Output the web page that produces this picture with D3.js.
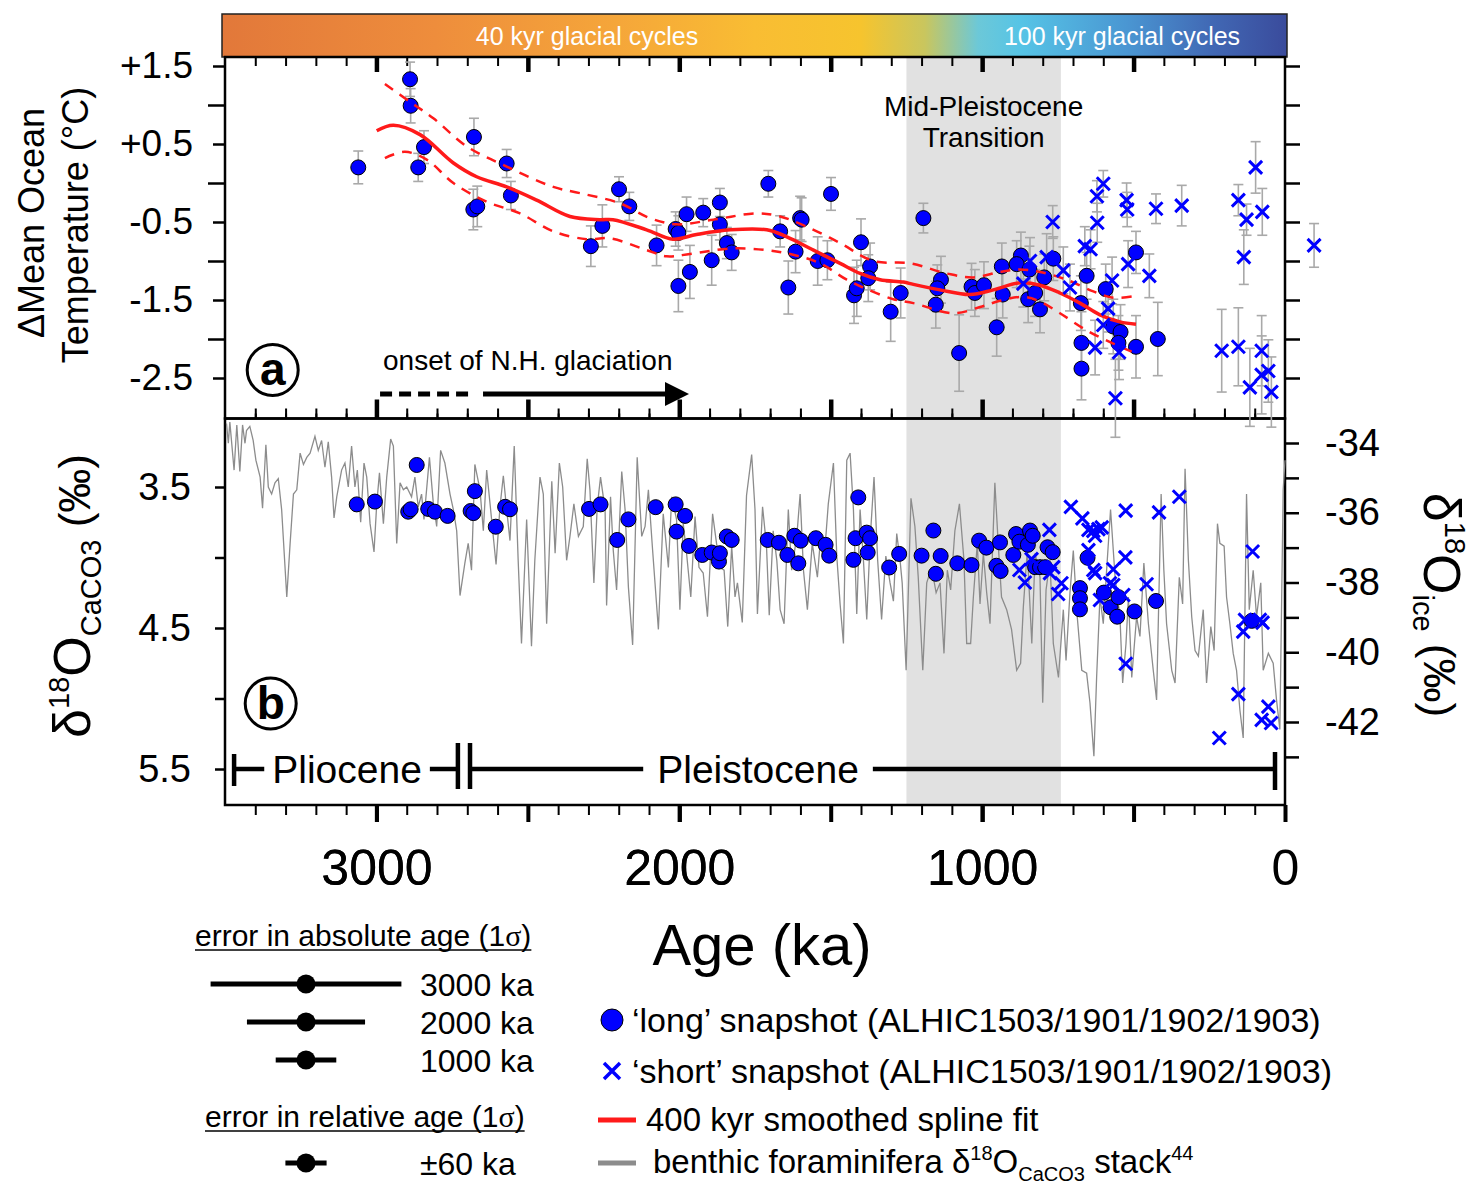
<!DOCTYPE html>
<html>
<head>
<meta charset="utf-8">
<script src="https://cdn.jsdelivr.net/npm/d3@7"></script>
<style>
  body { margin: 0; background: #fff; }
  svg { font-family: "Liberation Sans", Arial, Helvetica, sans-serif; }
</style>
</head>
<body>
<svg id="chart" width="1473" height="1186"></svg>
<script>
// ---- data ----
// [age ka, dT degC, 1 sigma]
const longTemp = [
  [3060,0.20,0.21],[2889,1.33,0.22],[2887,0.99,0.22],[2862,0.20,0.18],[2843,0.46,0.21],
  [2678,0.59,0.24],[2680,-0.34,0.26],[2667,-0.30,0.26],[2570,0.25,0.18],[2556,-0.16,0.18],
  [2292,-0.81,0.26],[2254,-0.55,0.27],[2199,-0.08,0.16],[2165,-0.30,0.18],[2075,-0.80,0.26],
  [2012,-0.59,0.22],[2003,-0.64,0.22],[2003,-1.32,0.33],[1976,-0.40,0.22],[1965,-1.14,0.34],
  [1921,-0.38,0.18],[1893,-0.99,0.32],[1866,-0.25,0.18],[1866,-0.53,0.20],[1843,-0.77,0.20],
  [1827,-0.89,0.23],[1706,-0.01,0.17],[1667,-0.62,0.20],[1640,-1.34,0.34],[1616,-0.88,0.27],
  [1601,-0.45,0.28],[1596,-0.47,0.28],[1543,-1.00,0.31],[1511,-0.99,0.25],[1499,-0.14,0.21],
  [1423,-1.44,0.36],[1414,-1.35,0.36],[1400,-0.76,0.30],[1370,-1.07,0.30],[1376,-1.22,0.30],
  [1302,-1.65,0.38],[1269,-1.41,0.32],[1194,-0.45,0.19],[1136,-1.24,0.30],[1148,-1.35,0.30],
  [1153,-1.56,0.30],[1076,-2.18,0.49],[1035,-1.33,0.30],[1024,-1.41,0.30],[994,-1.31,0.30],
  [935,-1.07,0.30],[932,-1.43,0.30],[952,-1.85,0.37],[872,-0.93,0.30],[886,-1.04,0.30],
  [844,-1.11,0.30],[848,-1.49,0.30],[825,-1.41,0.30],[809,-1.62,0.30],[795,-1.21,0.30],
  [765,-0.97,0.28],[674,-1.54,0.35],[655,-1.19,0.30],[672,-2.05,0.40],[672,-2.38,0.40],
  [592,-1.36,0.32],[492,-0.89,0.27],[567,-1.84,0.35],[543,-1.91,0.35],[550,-2.05,0.35],
  [492,-2.10,0.40],[420,-2.00,0.47]
];
const shortTemp = [
  [767,-0.50,0.21],[621,-0.17,0.20],[600,-0.01,0.17],[620,-0.51,0.25],[661,-0.81,0.25],
  [642,-0.85,0.25],[523,-0.22,0.22],[521,-0.34,0.22],[426,-0.33,0.19],[341,-0.29,0.26],
  [518,-1.04,0.30],[448,-1.19,0.28],[732,-1.12,0.30],[710,-1.34,0.30],[571,-1.25,0.30],
  [584,-1.61,0.30],[600,-1.82,0.30],[627,-2.11,0.35],[548,-2.17,0.35],[560,-2.76,0.50],
  [864,-1.29,0.30],[842,-1.00,0.30],[787,-0.95,0.30],[154,-0.22,0.20],[127,-0.47,0.20],
  [97,0.20,0.33],[75,-0.37,0.30],[136,-0.95,0.35],[-96,-0.80,0.28],[209,-2.15,0.53],
  [154,-2.10,0.50],[77,-2.15,0.45],[77,-2.46,0.50],[55,-2.41,0.40],[116,-2.62,0.50],
  [45,-2.68,0.45]
];
// 400 kyr smoothed spline fit and envelope [age, dT]
const splineMid = [
  [2999,0.67],[2944,0.74],[2856,0.62],[2747,0.26],[2669,0.08],[2570,-0.05],[2471,-0.22],
  [2361,-0.43],[2262,-0.47],[2219,-0.47],[2108,-0.60],[2021,-0.72],[1943,-0.66],[1832,-0.60],
  [1711,-0.60],[1645,-0.69],[1557,-0.86],[1469,-1.03],[1403,-1.16],[1337,-1.24],[1260,-1.27],
  [1227,-1.30],[1139,-1.37],[1040,-1.43],[963,-1.37],[875,-1.28],[809,-1.31],[743,-1.41],
  [677,-1.54],[611,-1.69],[545,-1.78],[492,-1.81]
];
const splineUpper = [
  [2972,1.27],[2889,1.04],[2812,0.83],[2702,0.47],[2570,0.21],[2416,-0.05],[2328,-0.13],
  [2196,-0.26],[2097,-0.45],[2009,-0.53],[1888,-0.47],[1744,-0.39],[1667,-0.43],[1579,-0.56],
  [1469,-0.77],[1359,-1.00],[1238,-1.03],[1117,-1.16],[1029,-1.21],[941,-1.14],[875,-1.11],
  [809,-1.14],[721,-1.24],[633,-1.39],[567,-1.47],[495,-1.45]
];
const splineLower = [
  [2972,0.32],[2906,0.40],[2834,0.30],[2746,0.00],[2636,-0.24],[2526,-0.39],[2416,-0.62],
  [2306,-0.72],[2229,-0.71],[2108,-0.86],[2042,-0.94],[1965,-0.91],[1833,-0.84],[1711,-0.86],
  [1624,-0.92],[1535,-1.03],[1447,-1.24],[1381,-1.36],[1293,-1.49],[1227,-1.54],[1095,-1.67],
  [1007,-1.59],[941,-1.51],[864,-1.46],[809,-1.52],[743,-1.67],[655,-1.89],[567,-2.06],[495,-2.18]
];
// [age ka, d18O ice permil]
const longIce = [
  [3065,-35.76],[3005,-35.68],[2895,-35.97],[2887,-35.90],[2867,-34.63],[2829,-35.89],[2807,-35.97],
  [2765,-36.09],[2689,-35.95],[2680,-36.01],[2675,-35.38],[2606,-36.40],[2575,-35.83],[2559,-35.90],
  [2298,-35.89],[2260,-35.76],[2205,-36.78],[2168,-36.19],[2078,-35.84],[2012,-35.76],[2009,-36.54],
  [1981,-36.09],[1968,-36.95],[1924,-37.21],[1893,-37.14],[1869,-37.40],[1866,-37.16],[1843,-36.68],
  [1827,-36.78],[1708,-36.78],[1671,-36.86],[1643,-37.21],[1620,-36.66],[1607,-37.45],[1599,-36.80],
  [1549,-36.73],[1517,-36.92],[1505,-37.23],[1425,-37.35],[1418,-36.73],[1409,-35.56],[1381,-36.57],
  [1378,-37.14],[1370,-36.73],[1307,-37.57],[1274,-37.18],[1200,-37.23],[1161,-36.51],[1153,-37.75],
  [1137,-37.24],[1082,-37.45],[1035,-37.50],[1010,-36.80],[986,-37.00],[953,-37.52],[939,-37.67],
  [941,-36.85],[897,-37.21],[888,-36.61],[877,-36.83],[849,-36.92],[842,-36.51],[833,-36.66],
  [825,-37.56],[809,-37.56],[792,-37.56],[784,-36.99],[767,-37.13],[677,-38.16],[677,-38.45],
  [677,-38.77],[652,-37.29],[598,-38.29],[576,-38.71],[554,-38.98],[550,-38.42],[497,-38.83],
  [426,-38.53],[110,-39.10]
];
const shortIce = [
  [778,-36.49],[877,-37.64],[859,-38.00],[837,-37.33],[765,-37.56],[776,-37.73],[738,-38.02],
  [749,-38.33],[707,-35.83],[669,-36.16],[649,-36.49],[633,-36.52],[616,-36.47],[605,-36.42],
  [627,-36.66],[526,-35.94],[416,-35.99],[349,-35.54],[527,-37.28],[633,-37.64],[627,-37.73],
  [567,-37.62],[578,-38.02],[567,-38.07],[611,-38.50],[534,-38.36],[457,-38.05],[649,-37.07],
  [526,-40.33],[107,-37.11],[138,-39.41],[132,-39.07],[74,-39.15],[83,-39.07],[154,-41.20],
  [217,-42.46],[55,-41.56],[77,-41.94],[46,-42.03]
];
// benthic foraminifera d18O stack [age ka, permil]
const benthic = [
  [3495,3.05],[3489,3.19],[3484,3.04],[3470,3.38],[3461,3.06],[3451,3.39],[3442,3.06],[3434,3.19],
  [3429,3.10],[3418,3.07],[3407,3.17],[3398,3.31],[3384,3.43],[3376,3.65],[3365,3.20],[3357,3.50],
  [3346,3.55],[3335,3.47],[3324,3.44],[3313,3.66],[3296,4.28],[3285,3.90],[3274,3.55],[3263,3.52],
  [3252,3.26],[3241,3.34],[3230,3.29],[3219,3.26],[3203,3.14],[3192,3.24],[3181,3.17],[3170,3.36],
  [3159,3.18],[3148,3.43],[3140,3.72],[3131,3.57],[3115,3.38],[3104,3.33],[3093,3.50],[3082,3.21],
  [3071,3.50],[3063,3.38],[3052,3.75],[3041,3.33],[3032,3.43],[3021,3.76],[3008,3.96],[2999,3.62],
  [2990,3.40],[2977,3.76],[2966,3.43],[2953,3.16],[2944,3.21],[2933,3.90],[2922,3.47],[2911,3.52],
  [2900,3.50],[2884,3.57],[2873,3.43],[2862,3.64],[2851,3.55],[2843,3.73],[2825,3.29],[2812,3.62],
  [2801,3.78],[2788,3.24],[2774,3.33],[2757,3.55],[2746,3.66],[2735,3.81],[2724,4.27],[2708,4.04],
  [2697,3.90],[2686,4.09],[2675,3.34],[2658,3.52],[2647,3.81],[2636,3.38],[2623,3.66],[2605,4.05],
  [2592,3.64],[2581,3.42],[2570,3.66],[2559,3.88],[2545,3.21],[2532,4.02],[2521,4.61],[2504,3.73],
  [2488,4.63],[2477,4.02],[2460,3.43],[2449,3.55],[2438,4.47],[2421,3.46],[2410,3.97],[2396,3.33],
  [2385,3.50],[2372,4.02],[2361,3.85],[2348,3.62],[2333,3.85],[2317,3.78],[2304,3.30],[2295,3.52],
  [2282,4.18],[2271,3.64],[2260,3.43],[2245,3.66],[2240,4.34],[2227,3.57],[2218,3.95],[2207,4.23],
  [2190,3.39],[2179,3.66],[2168,4.21],[2154,4.62],[2139,3.29],[2124,3.85],[2113,3.78],[2102,3.52],
  [2088,3.95],[2069,4.51],[2053,3.69],[2036,4.07],[2025,3.57],[2009,3.73],[1998,4.37],[1987,3.76],
  [1976,3.97],[1962,4.28],[1948,3.71],[1935,4.07],[1921,4.11],[1907,4.42],[1890,3.69],[1877,3.90],
  [1866,4.07],[1852,4.09],[1840,4.49],[1827,3.92],[1816,4.28],[1808,4.18],[1792,4.46],[1778,3.56],
  [1761,3.27],[1750,3.66],[1742,4.40],[1725,3.64],[1712,3.92],[1703,4.41],[1690,3.81],[1678,4.02],
  [1667,4.37],[1654,4.47],[1640,3.66],[1629,4.09],[1612,3.85],[1601,3.55],[1590,4.09],[1577,4.37],
  [1561,3.90],[1544,4.14],[1535,3.90],[1522,4.02],[1508,3.62],[1491,3.33],[1480,3.99],[1469,4.33],
  [1458,4.61],[1447,3.31],[1436,3.26],[1425,3.66],[1414,4.40],[1403,3.66],[1392,4.02],[1381,4.44],
  [1370,3.88],[1357,3.43],[1345,4.02],[1332,4.44],[1318,3.99],[1304,4.18],[1293,4.31],[1282,3.83],
  [1271,4.02],[1264,4.18],[1251,4.80],[1235,3.58],[1222,3.78],[1211,4.14],[1196,4.80],[1183,4.18],
  [1167,4.07],[1152,4.25],[1139,4.18],[1126,4.68],[1115,4.09],[1104,4.23],[1090,3.81],[1075,3.62],
  [1060,4.02],[1051,4.61],[1038,4.61],[1029,4.28],[1016,3.90],[1007,4.33],[996,3.97],[985,4.25],
  [974,4.47],[958,3.47],[947,3.90],[936,4.28],[919,4.37],[903,4.51],[886,4.80],[873,4.75],
  [864,4.35],[851,3.95],[836,4.61],[825,3.97],[809,4.14],[800,5.03],[789,4.23],[776,4.02],
  [765,4.61],[748,4.85],[732,4.37],[723,4.73],[710,4.25],[699,3.95],[686,4.42],[671,4.80],
  [655,4.82],[644,5.03],[631,5.41],[622,4.85],[611,4.28],[600,4.47],[589,4.09],[576,3.66],
  [561,4.14],[545,4.42],[536,4.89],[525,4.61],[517,4.28],[506,4.85],[490,4.42],[479,4.56],
  [466,4.04],[451,4.47],[435,4.80],[424,5.01],[409,3.55],[400,4.09],[391,4.47],[374,4.80],
  [363,4.89],[349,4.14],[338,4.33],[330,3.37],[319,4.02],[308,4.42],[297,4.66],[286,4.70],
  [270,4.37],[259,4.89],[245,4.49],[234,4.66],[223,3.76],[215,3.90],[201,3.92],[193,4.28],
  [182,4.47],[171,4.68],[160,4.80],[149,5.08],[138,5.28],[127,3.55],[118,4.37],[105,4.09],
  [94,4.42],[80,4.18],[72,4.80],[55,4.68],[39,4.75],[28,5.01],[17,5.22],[6,3.52],[0,3.31]
];
const tempTicks = [1.5, 0.5, -0.5, -1.5, -2.5];
const tempMinor = [1, 0, -1, -2];
const benthicTicks = [3.5, 4, 4.5, 5, 5.5];
const iceTicks = [-34, -35, -36, -37, -38, -39, -40, -41, -42, -43];
const ageLabels = [3000, 2000, 1000, 0];
const mpt = [1250, 740];
const nhgOnset = { dashFrom: 2988, dashTo: 2681, solidFrom: 2648, tip: 1968 };
const epochMarks = { start: 3470, boundary: [2731, 2691], end: 33, pliLabel: 3097, pleLabel: 1740 };
const absAgeErr = [['3000 ka', 315], ['2000 ka', 195], ['1000 ka', 100]];
const relAgeErr = [['±60 ka', 68]];
const cycleBands = ['40 kyr glacial cycles', '100 kyr glacial cycles'];

// ---- layout ----
const FONT = '"Liberation Sans", Arial, Helvetica, sans-serif';
const left = 225, right = 1285, topY = 57, midY = 418.5, botY = 805;
const svg = d3.select('#chart');

const x  = d3.scaleLinear().domain([3500, 0]).range([left, right]);
const yT = d3.scaleLinear().domain([1.5, -2.5]).range([66, 378]);
const yB = d3.scaleLinear().domain([3.5, 5.5]).range([487, 769]);
const yI = d3.scaleLinear().domain([-34, -42]).range([443, 722]);

const BLUE = '#0000ff', RED = '#ff1a1a', GREY_ERR = '#a9a9a9', GREY_LINE = '#8c8c8c';

// colour bar
const defs = svg.append('defs');
const grad = defs.append('linearGradient').attr('id', 'cyc').attr('x1', 0).attr('x2', 1).attr('y1', 0).attr('y2', 0);
[[0, '#e2783a'], [0.2, '#ee8d3c'], [0.37, '#f5a63a'], [0.5, '#f9bd33'], [0.6, '#f6c42e'],
 [0.66, '#c9c65e'], [0.71, '#6cc8d8'], [0.75, '#56c4e6'], [0.85, '#4a96d2'], [0.93, '#4168b4'], [1, '#3a4b9c']]
  .forEach(([o, c]) => grad.append('stop').attr('offset', o).attr('stop-color', c));
svg.append('rect').attr('x', 222).attr('y', 14).attr('width', 1065).attr('height', 43)
  .attr('fill', 'url(#cyc)').attr('stroke', '#222').attr('stroke-width', 1.5);
svg.selectAll('text.cyc').data(cycleBands).join('text').attr('class', 'cyc')
  .attr('x', (d, i) => i ? 1122 : 587).attr('y', 45)
  .attr('text-anchor', 'middle').attr('fill', '#fff').attr('font-size', 25).text(d => d);

// MPT band
svg.append('rect').attr('x', x(mpt[0])).attr('y', topY).attr('width', x(mpt[1]) - x(mpt[0]))
  .attr('height', botY - topY).attr('fill', '#e1e1e1');

svg.append('text').attr('x', x(995)).attr('y', 116).attr('text-anchor', 'middle')
  .attr('font-size', 28).text('Mid-Pleistocene');
svg.append('text').attr('x', x(995)).attr('y', 147).attr('text-anchor', 'middle')
  .attr('font-size', 28).text('Transition');

// frames
svg.append('rect').attr('x', left).attr('y', topY).attr('width', right - left).attr('height', midY - topY)
  .attr('fill', 'none').attr('stroke', '#000').attr('stroke-width', 2.5);
svg.append('rect').attr('x', left).attr('y', midY).attr('width', right - left).attr('height', botY - midY)
  .attr('fill', 'none').attr('stroke', '#000').attr('stroke-width', 2.5);

// x ticks every 100 ka, thicker every 500 ka
const minorAges = d3.range(100, 3500, 100).filter(d => d % 500);
const majorAges = d3.range(500, 3500, 500);
function ageTicks(gen, y, vals, size, sw) {
  svg.append('g').attr('transform', `translate(0,${y})`)
    .call(gen(x).tickValues(vals).tickSize(size).tickFormat(''))
    .call(g => g.select('.domain').remove())
    .call(g => g.selectAll('line').attr('stroke-width', sw));
}
ageTicks(d3.axisTop, topY, minorAges, -9, 2);
ageTicks(d3.axisTop, topY, majorAges, -15, 4.5);
ageTicks(d3.axisTop, midY, minorAges, 5, 2);
ageTicks(d3.axisBottom, midY, minorAges, -10, 2);
ageTicks(d3.axisBottom, midY, majorAges, -19, 4.5);
ageTicks(d3.axisBottom, botY, minorAges, 10, 2);

svg.append('g').attr('transform', `translate(0,${botY})`)
  .call(d3.axisBottom(x).tickValues(ageLabels.concat(majorAges)).tickSize(17).tickPadding(27)
    .tickFormat(d => ageLabels.includes(d) ? d : ''))
  .call(g => g.select('.domain').remove())
  .call(g => g.selectAll('line').attr('stroke-width', 4))
  .attr('font-family', FONT).attr('font-size', 50);

svg.append('text').attr('x', 762).attr('y', 965).attr('text-anchor', 'middle')
  .attr('font-size', 58).text('Age (ka)');

// y axes, panel a
svg.append('g').attr('transform', `translate(${left},0)`)
  .call(d3.axisLeft(yT).tickValues(tempTicks).tickSize(12).tickPadding(20)
    .tickFormat(d => (d > 0 ? '+' : '') + d.toFixed(1)))
  .call(g => g.select('.domain').remove())
  .call(g => g.selectAll('line').attr('stroke-width', 2.5))
  .attr('font-family', FONT).attr('font-size', 37);
svg.append('g').attr('transform', `translate(${left},0)`)
  .call(d3.axisLeft(yT).tickValues(tempMinor).tickSize(17).tickFormat(''))
  .call(g => g.select('.domain').remove())
  .call(g => g.selectAll('line').attr('stroke-width', 2.5));
svg.append('g').attr('transform', `translate(${right},0)`)
  .call(d3.axisRight(yT).tickValues(tempTicks.concat(tempMinor)).tickSize(15).tickFormat(''))
  .call(g => g.select('.domain').remove())
  .call(g => g.selectAll('line').attr('stroke-width', 2.5));

// y axes, panel b
svg.append('g').attr('transform', `translate(${left},0)`)
  .call(d3.axisLeft(yB).tickValues(benthicTicks).tickSize(10).tickPadding(24)
    .tickFormat(d => (d * 2) % 2 ? d.toFixed(1) : ''))
  .call(g => g.select('.domain').remove())
  .call(g => g.selectAll('line').attr('stroke-width', 2.5))
  .attr('font-family', FONT).attr('font-size', 38);
svg.append('g').attr('transform', `translate(${right},0)`)
  .call(d3.axisRight(yI).tickValues(iceTicks).tickSize(14).tickPadding(26)
    .tickFormat(d => d % 2 === 0 ? d : ''))
  .call(g => g.select('.domain').remove())
  .call(g => g.selectAll('line').attr('stroke-width', 2.5))
  .attr('font-family', FONT).attr('font-size', 38);

// axis titles
svg.append('text').attr('transform', 'translate(44,223) rotate(-90)').attr('text-anchor', 'middle')
  .attr('font-size', 36).text('ΔMean Ocean');
svg.append('text').attr('transform', 'translate(88,225) rotate(-90)').attr('text-anchor', 'middle')
  .attr('font-size', 36).text('Temperature (°C)');

const lb = svg.append('text').attr('transform', 'translate(90,596) rotate(-90)')
  .attr('text-anchor', 'middle').attr('font-size', 52);
lb.append('tspan').text('δ');
lb.append('tspan').attr('font-size', 29).attr('dy', -21).text('18');
lb.append('tspan').attr('dy', 21).text('O');
lb.append('tspan').attr('font-size', 29).attr('dy', 11).text('CaCO3');
lb.append('tspan').attr('font-size', 44).attr('dy', -11).text(' (‰)');

const rb = svg.append('text').attr('transform', 'translate(1424,605) rotate(90)')
  .attr('text-anchor', 'middle').attr('font-size', 52);
rb.append('tspan').text('δ');
rb.append('tspan').attr('font-size', 29).attr('dy', -21).text('18');
rb.append('tspan').attr('dy', 21).text('O');
rb.append('tspan').attr('font-size', 29).attr('dy', 11).text('ice');
rb.append('tspan').attr('font-size', 44).attr('dy', -11).text(' (‰)');

// ---- panel b: benthic stack + ice ----
svg.append('path').datum(benthic)
  .attr('fill', 'none').attr('stroke', GREY_LINE).attr('stroke-width', 1.3)
  .attr('d', d3.line().x(d => x(d[0])).y(d => yB(d[1])));

// ---- panel a: error bars ----
const errG = svg.append('g').attr('stroke', GREY_ERR).attr('stroke-width', 1.6);
longTemp.concat(shortTemp).forEach(([a, t, e]) => {
  const cx = x(a), y0 = yT(t + e), y1 = yT(t - e);
  errG.append('line').attr('x1', cx).attr('x2', cx).attr('y1', y0).attr('y2', y1);
  errG.append('line').attr('x1', cx - 5).attr('x2', cx + 5).attr('y1', y0).attr('y2', y0);
  errG.append('line').attr('x1', cx - 5).attr('x2', cx + 5).attr('y1', y1).attr('y2', y1);
});

function dots(data, yScale) {
  svg.append('g').selectAll('circle').data(data).join('circle')
    .attr('cx', d => x(d[0])).attr('cy', d => yScale(d[1])).attr('r', 7.5)
    .attr('fill', BLUE).attr('stroke', '#000').attr('stroke-width', 1);
}
function crosses(data, yScale) {
  svg.append('g').selectAll('path').data(data).join('path')
    .attr('transform', d => `translate(${x(d[0])},${yScale(d[1])})`)
    .attr('d', 'M-6.5,-6.5L6.5,6.5M-6.5,6.5L6.5,-6.5')
    .attr('stroke', BLUE).attr('stroke-width', 3).attr('fill', 'none');
}

dots(longTemp, yT);

const spl = d3.line().curve(d3.curveCatmullRom.alpha(0.5)).x(d => x(d[0])).y(d => yT(d[1]));
svg.append('path').datum(splineMid).attr('fill', 'none').attr('stroke', RED)
  .attr('stroke-width', 3.5).attr('d', spl);
[splineUpper, splineLower].forEach(s => svg.append('path').datum(s).attr('fill', 'none')
  .attr('stroke', RED).attr('stroke-width', 2.5).attr('stroke-dasharray', '10,8').attr('d', spl));

crosses(shortTemp, yT);

dots(longIce, yI);
crosses(shortIce, yI);

// ---- annotations ----
svg.append('text').attr('x', 383).attr('y', 370).attr('font-size', 28).text('onset of N.H. glaciation');
svg.append('line').attr('x1', x(nhgOnset.dashFrom)).attr('x2', x(nhgOnset.dashTo)).attr('y1', 394).attr('y2', 394)
  .attr('stroke', '#000').attr('stroke-width', 5).attr('stroke-dasharray', '12,7');
svg.append('line').attr('x1', x(nhgOnset.solidFrom)).attr('x2', x(nhgOnset.tip) - 20).attr('y1', 394).attr('y2', 394)
  .attr('stroke', '#000').attr('stroke-width', 5);
svg.append('path')
  .attr('d', `M${x(nhgOnset.tip)},394L${x(nhgOnset.tip) - 24},382L${x(nhgOnset.tip) - 24},406Z`)
  .attr('fill', '#000');

[['a', 272.7, 370], ['b', 270.7, 703.5]].forEach(([t, cx, cy]) => {
  svg.append('circle').attr('cx', cx).attr('cy', cy).attr('r', 25.5)
    .attr('fill', 'none').attr('stroke', '#000').attr('stroke-width', 3);
  svg.append('text').attr('x', cx).attr('y', cy + 15).attr('text-anchor', 'middle')
    .attr('font-size', 46).attr('font-weight', 'bold').text(t);
});

// epoch bar
const eY = 769;
const epochG = svg.append('g').attr('stroke', '#000').attr('stroke-width', 4.5);
const pli = svg.append('text').attr('x', x(epochMarks.pliLabel))
  .attr('y', eY + 14).attr('text-anchor', 'middle').attr('font-size', 39).text('Pliocene');
const ple = svg.append('text').attr('x', x(epochMarks.pleLabel))
  .attr('y', eY + 14).attr('text-anchor', 'middle').attr('font-size', 39).text('Pleistocene');
const pliBox = pli.node().getBBox(), pleBox = ple.node().getBBox();
[[x(epochMarks.start), pliBox.x - 8], [pliBox.x + pliBox.width + 8, x(epochMarks.boundary[0])],
 [x(epochMarks.boundary[1]), pleBox.x - 14], [pleBox.x + pleBox.width + 14, x(epochMarks.end)]]
  .forEach(([a, b]) => epochG.append('line').attr('x1', a).attr('x2', b).attr('y1', eY).attr('y2', eY));
[[x(epochMarks.start), 754, 786], [x(epochMarks.boundary[0]), 743, 789],
 [x(epochMarks.boundary[1]), 743, 789], [x(epochMarks.end), 752, 790]]
  .forEach(([bx, a, b]) => epochG.append('line').attr('x1', bx).attr('x2', bx).attr('y1', a).attr('y2', b));

// ---- legends ----
const ageErrScale = d3.scaleLinear().domain([0, 1000]).range([0, x(0) - x(1000)]);
function ulText(tx, ty, str) {
  const t = svg.append('text').attr('x', tx).attr('y', ty).attr('font-size', 30);
  t.append('tspan').text(str.slice(0, -2));
  t.append('tspan').attr('font-family', '"Liberation Serif", "Times New Roman", serif').text('σ');
  t.append('tspan').text(')');
  const bb = t.node().getBBox();
  svg.append('line').attr('x1', tx).attr('x2', tx + bb.width).attr('y1', ty + 4).attr('y2', ty + 4)
    .attr('stroke', '#000').attr('stroke-width', 1.5);
}
ulText(195, 946, 'error in absolute age (1σ)');
ulText(205, 1127, 'error in relative age (1σ)');
function errRow([label, err], cy) {
  const cx = 306, hw = ageErrScale(err);
  svg.append('line').attr('x1', cx - hw).attr('x2', cx + hw).attr('y1', cy).attr('y2', cy)
    .attr('stroke', '#000').attr('stroke-width', 5);
  svg.append('circle').attr('cx', cx).attr('cy', cy).attr('r', 9.5).attr('fill', '#000');
  svg.append('text').attr('x', 420).attr('y', cy + 12).attr('font-size', 32).text(label);
}
absAgeErr.forEach((d, i) => errRow(d, [984, 1022, 1060][i]));
relAgeErr.forEach(d => errRow(d, 1163));

const legX = 612;
svg.append('circle').attr('cx', legX).attr('cy', 1020).attr('r', 11).attr('fill', BLUE)
  .attr('stroke', '#000').attr('stroke-width', 1);
svg.append('text').attr('x', 632).attr('y', 1032).attr('font-size', 34)
  .text('‘long’ snapshot (ALHIC1503/1901/1902/1903)');
svg.append('path').attr('transform', `translate(${legX},1071)`).attr('d', 'M-8,-8L8,8M-8,8L8,-8')
  .attr('stroke', BLUE).attr('stroke-width', 3.5);
svg.append('text').attr('x', 632).attr('y', 1083).attr('font-size', 34)
  .text('‘short’ snapshot (ALHIC1503/1901/1902/1903)');
svg.append('line').attr('x1', 598).attr('x2', 636).attr('y1', 1120).attr('y2', 1120)
  .attr('stroke', RED).attr('stroke-width', 5);
svg.append('text').attr('x', 646).attr('y', 1131).attr('font-size', 33).text('400 kyr smoothed spline fit');
svg.append('line').attr('x1', 598).attr('x2', 636).attr('y1', 1163).attr('y2', 1163)
  .attr('stroke', GREY_LINE).attr('stroke-width', 5);
const bt = svg.append('text').attr('x', 653).attr('y', 1173).attr('font-size', 33);
bt.append('tspan').text('benthic foraminifera δ');
bt.append('tspan').attr('font-size', 20).attr('dy', -13).text('18');
bt.append('tspan').attr('dy', 13).text('O');
bt.append('tspan').attr('font-size', 20).attr('dy', 8).text('CaCO3');
bt.append('tspan').attr('dy', -8).text(' stack');
bt.append('tspan').attr('font-size', 20).attr('dy', -13).text('44');
</script>
</body>
</html>
